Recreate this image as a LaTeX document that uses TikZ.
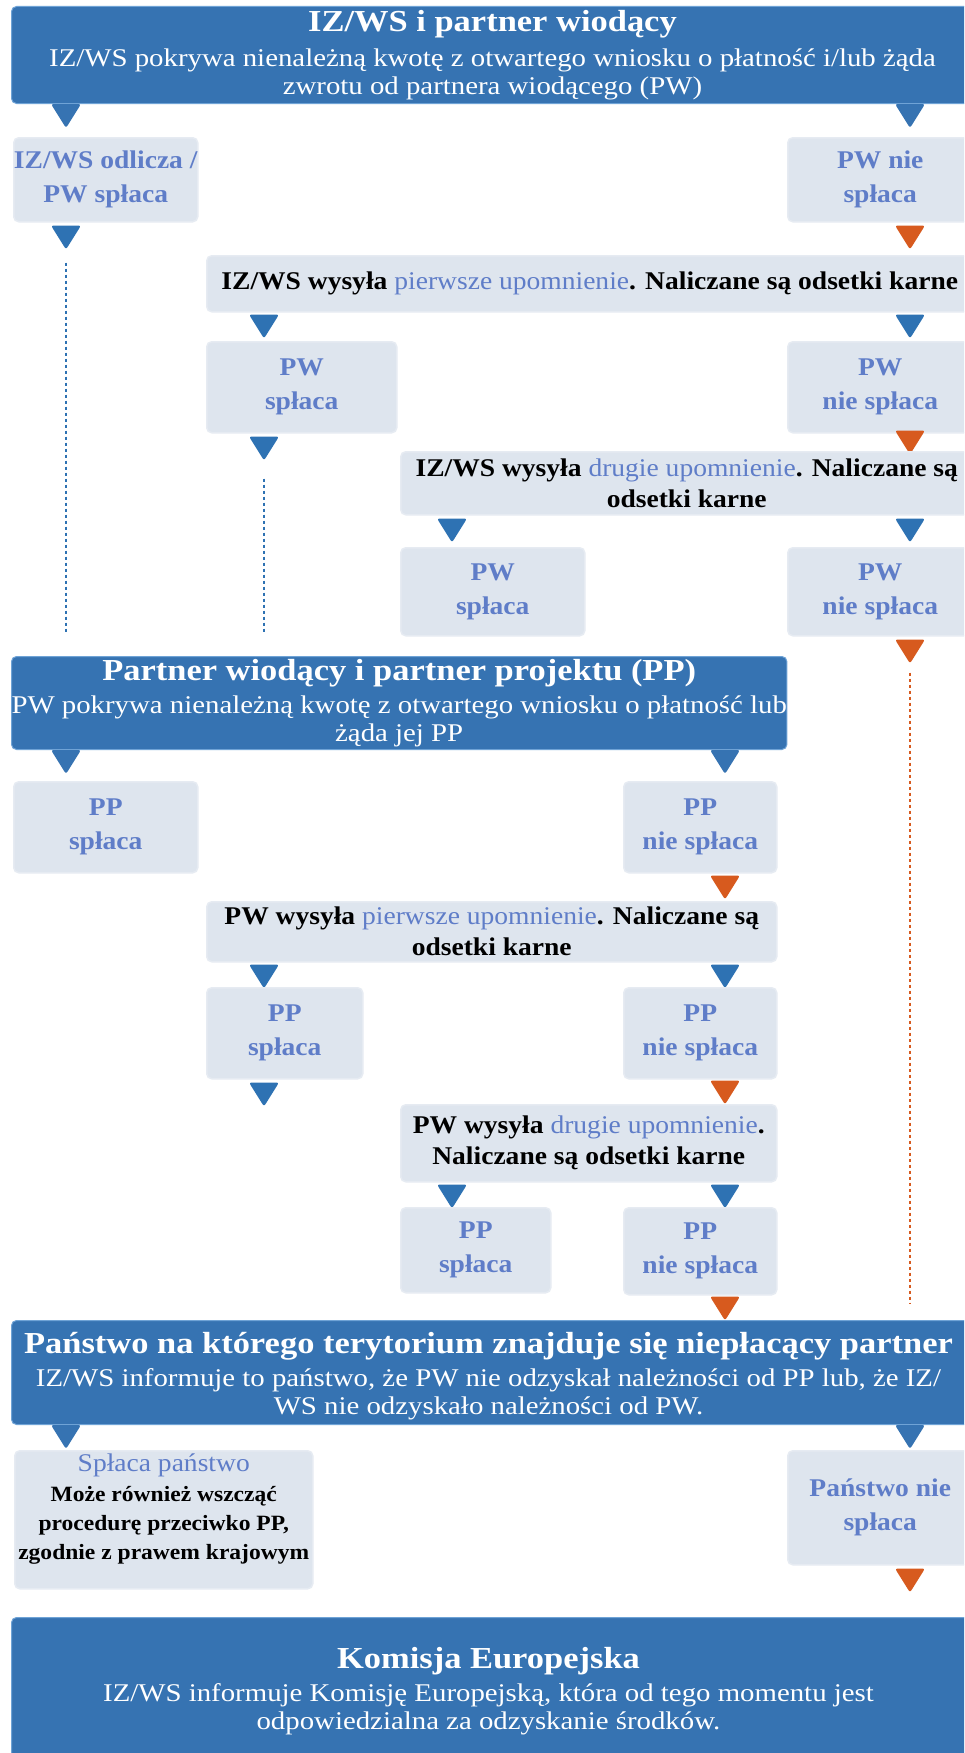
\documentclass[tikz,border=0pt]{standalone}
\usepackage{fontspec}
\setmainfont{Liberation Serif}
\newfontfamily\dfont{Liberation Serif}[FakeStretch=1.13]
\newfontfamily\lfont{Liberation Serif}[FakeStretch=1.08]
\usetikzlibrary{calc}
\definecolor{dblue}{HTML}{3673B2}
\definecolor{dedge}{HTML}{6FA3D6}
\definecolor{lgray}{HTML}{DEE5EE}
\definecolor{lshade}{HTML}{E6EBF2}
\definecolor{tblue}{HTML}{5F7DC8}
\definecolor{triblue}{HTML}{2E72B3}
\definecolor{triorange}{HTML}{D75A1E}
\newcommand\dtri[3]{\fill[#1,rounded corners=2.5pt,shift={(#2)}] (-15,#3) -- (15,#3) -- (0,#3+24) -- cycle;}
\begin{document}
\begin{tikzpicture}[x=1pt,y=-1pt,
  darkbox/.style={fill=dblue, draw=dedge, line width=1pt, rounded corners=5pt, anchor=north west, inner sep=0pt, text=white, align=center, font=\dfont\fontsize{25.5}{28}\selectfont},
  darktext/.style={anchor=north, inner sep=0pt, text=white, align=center, font=\dfont\fontsize{25.5}{28}\selectfont},
  dtitle/.style={},
  lightbox/.style={fill=lgray, draw=lshade, line width=1.5pt, rounded corners=5pt, anchor=north west, inner sep=0pt, align=center, text=tblue, font=\lfont\fontsize{25.5}{34}\selectfont\bfseries},
  actbox/.style={lightbox, text=black, font=\lfont\fontsize{25.5}{31}\selectfont\bfseries},
  dotline/.style={line width=1.4pt, dash pattern=on 3pt off 3pt}
]
\useasboundingbox (0,0) rectangle (964,1753);
\clip (0,0) rectangle (964,1753);
\fill[white] (0,0) rectangle (964,1753);

\coordinate (cA) at (66,0);
\coordinate (cB) at (264,0);
\coordinate (cC) at (452,0);
\coordinate (cD) at (725,0);
\coordinate (cE) at (910,0);

% ---------- level 1
\node[darkbox, minimum width=962, minimum height=97] (T) at (11,6)
 {{\fontsize{30.5}{32}\selectfont\bfseries IZ/WS i partner wiodący}\\[7pt]
  IZ/WS pokrywa nienależną kwotę z otwartego wniosku o płatność i/lub żąda\\
  zwrotu od partnera wiodącego (PW)};
\dtri{dblue}{T.south -| cA}{0}
\dtri{dblue}{T.south -| cE}{0}

\node[lightbox, minimum width=184, minimum height=84] (A1) at (13,137) {IZ/WS odlicza /\\PW spłaca};
\node[lightbox, minimum width=185, minimum height=84] (A2) at (787,137) {PW nie\\spłaca};
\dtri{triblue}{A1.south -| cA}{3}
\dtri{triorange}{A2.south -| cE}{3}

\node[actbox, minimum width=766, minimum height=56] (B) at (206,255)
 {IZ/WS wysyła {\mdseries\color{tblue}pierwsze upomnienie}. Naliczane są odsetki karne};
\dtri{triblue}{B.south -| cB}{2}
\dtri{triblue}{B.south -| cE}{2}

\node[lightbox, minimum width=190, minimum height=91] (C1) at (206,341) {PW\\spłaca};
\node[lightbox, minimum width=185, minimum height=91] (C2) at (787,341) {PW\\nie spłaca};
\dtri{triblue}{C1.south -| cB}{3}
\dtri{triorange}{C2.south -| cE}{-3}

\node[actbox, minimum width=572, minimum height=63] (D) at (400,451)
 {IZ/WS wysyła {\mdseries\color{tblue}drugie upomnienie}. Naliczane są\\odsetki karne};
\dtri{triblue}{D.south -| cC}{3}
\dtri{triblue}{D.south -| cE}{3}

\node[lightbox, minimum width=184, minimum height=88] (E1) at (400,547) {PW\\spłaca};
\node[lightbox, minimum width=185, minimum height=88] (E2) at (787,547) {PW\\nie spłaca};
\dtri{triorange}{E2.south -| cE}{3}

% ---------- level 2
\node[darkbox, minimum width=773, minimum height=93] (F) at (11,656)
 {{\fontsize{30.5}{32}\selectfont\bfseries Partner wiodący i partner projektu (PP)}\\[5pt]
  PW pokrywa nienależną kwotę z otwartego wniosku o płatność lub\\
  żąda jej PP};
\dtri{dblue}{F.south -| cA}{0}
\dtri{dblue}{F.south -| cD}{0}

\node[lightbox, minimum width=184, minimum height=91] (G1) at (13,781) {PP\\spłaca};
\node[lightbox, minimum width=153, minimum height=91] (G2) at (623,781) {PP\\nie spłaca};
\dtri{triorange}{G2.south -| cD}{2}

\node[actbox, minimum width=570, minimum height=60] (H) at (206,901)
 {PW wysyła {\mdseries\color{tblue}pierwsze upomnienie}. Naliczane są\\odsetki karne};
\dtri{triblue}{H.south -| cB}{2}
\dtri{triblue}{H.south -| cD}{2}

\node[lightbox, minimum width=156, minimum height=91] (I1) at (206,987) {PP\\spłaca};
\node[lightbox, minimum width=153, minimum height=91] (I2) at (623,987) {PP\\nie spłaca};
\dtri{triblue}{I1.south -| cB}{3}
\dtri{triorange}{I2.south -| cD}{1}

\node[actbox, minimum width=376, minimum height=77] (J) at (400,1104)
 {PW wysyła {\mdseries\color{tblue}drugie upomnienie}.\\Naliczane są odsetki karne};
\dtri{triblue}{J.south -| cC}{2}
\dtri{triblue}{J.south -| cD}{2}

\node[lightbox, minimum width=150, minimum height=85] (K1) at (400,1207) {PP\\spłaca};
\node[lightbox, minimum width=153, minimum height=87] (K2) at (623,1207) {PP\\nie spłaca};
\dtri{triorange}{K2.south -| cD}{1}

% ---------- level 3
\node[darkbox, minimum width=962, minimum height=104] (L) at (11,1320) {};
\node[darktext] (Lt) at ($(L.north)+(-4,12)$)
 {{\fontsize{30.5}{32}\selectfont\bfseries Państwo na którego terytorium znajduje się niepłacący partner}\\[5pt]
  IZ/WS informuje to państwo, że PW nie odzyskał należności od PP lub, że IZ/\\
  WS nie odzyskało należności od PW.};
\dtri{dblue}{L.south -| cA}{0}
\dtri{dblue}{L.south -| cE}{0}

\node[lightbox, minimum width=298, minimum height=138] (M1) at (14,1450) {};
\node[anchor=north, align=center, inner sep=0pt, font=\lfont\fontsize{21.8}{29}\selectfont\bfseries] (M1t) at ($(M1.north)+(0,4)$)
 {{\mdseries\color{tblue}\fontsize{25.5}{29}\selectfont Spłaca państwo}\\[1pt]
  Może również wszcząć\\procedurę przeciwko PP,\\zgodnie z prawem krajowym};
\node[lightbox, minimum width=185, minimum height=114] (M2) at (787,1450) {Państwo nie\\spłaca};
\dtri{triorange}{M2.south -| cE}{3}

% ---------- level 4
\node[darkbox, minimum width=962, minimum height=140] (N) at (11,1617) {};
\node[darktext] (Nt) at ($(N.north)+(-4,30)$)
 {{\fontsize{30.5}{32}\selectfont\bfseries Komisja Europejska}\\[5pt]
  IZ/WS informuje Komisję Europejską, która od tego momentu jest\\
  odpowiedzialna za odzyskanie środków.};

% ---------- dotted continuations
\path (A1.south -| cA) ++(0,40) coordinate (dA);
\draw[dotline, triblue, shorten >=24pt] (dA) -- (F.north -| cA);
\path (C1.south -| cB) ++(0,45) coordinate (dB);
\draw[dotline, triblue, shorten >=24pt] (dB) -- (F.north -| cB);
\path (E2.south -| cE) ++(0,36) coordinate (dE);
\draw[dotline, triorange, shorten >=16pt] (dE) -- (L.north -| cE);
\end{tikzpicture}
\end{document}
